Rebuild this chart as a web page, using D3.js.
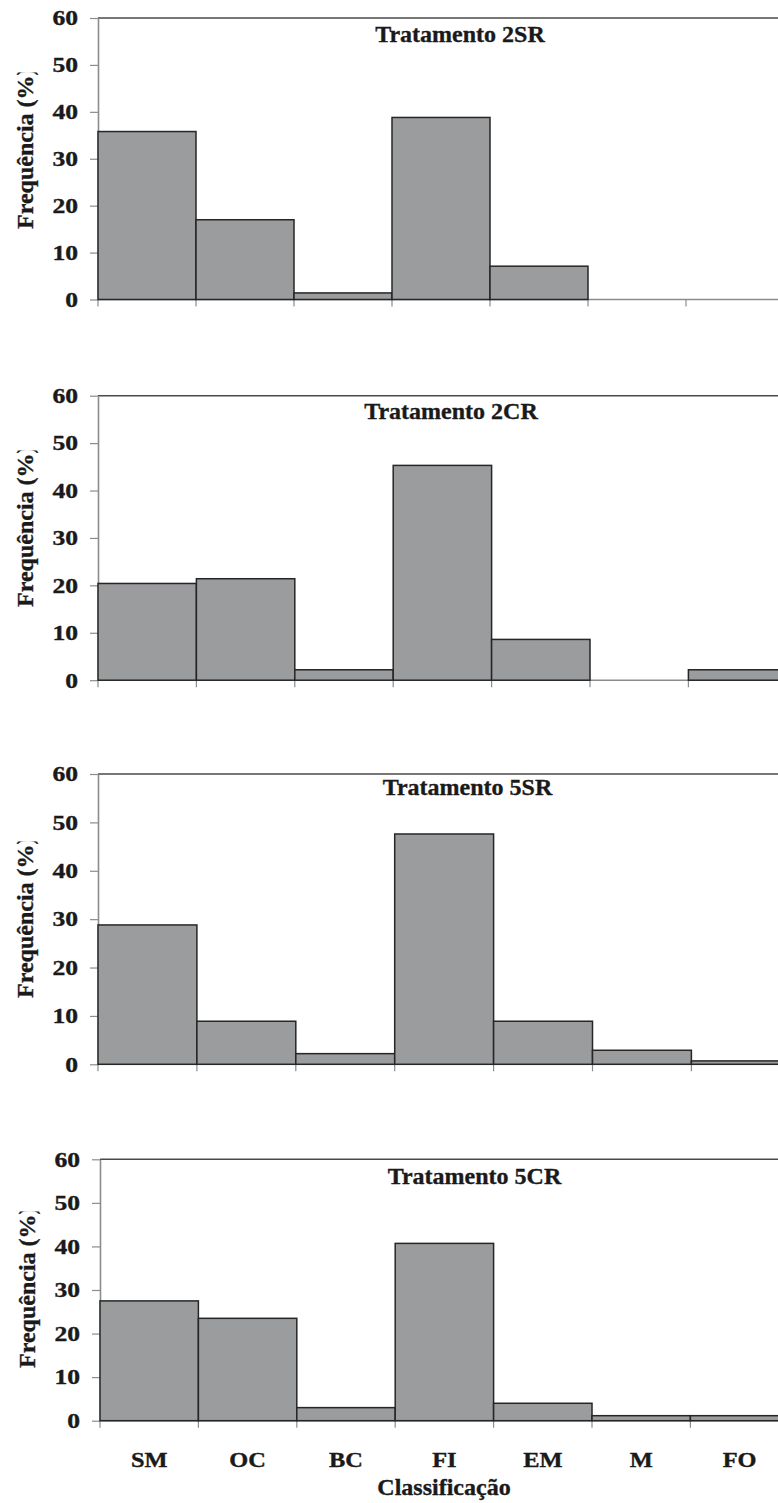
<!DOCTYPE html>
<html>
<head>
<meta charset="utf-8">
<script src="https://cdn.jsdelivr.net/npm/d3@7"></script>
<style>
  html, body { margin: 0; padding: 0; background: #fff; }
  svg { display: block; }
  text { font-family: "Liberation Serif", "Times New Roman", serif; font-weight: bold; fill: #1a1a1a; stroke: #1a1a1a; stroke-width: 0.35px; }
</style>
</head>
<body>
<svg id="chart" width="778" height="1503"></svg>
<script>
// Classification categories shared by all four histograms
const categories = ["SM", "OC", "BC", "FI", "EM", "M", "FO"];

// Panel titles
const treatments = ["Tratamento 2SR", "Tratamento 2CR", "Tratamento 5SR", "Tratamento 5CR"];

// Frequency (%) per category for each treatment
const freq2SR = [35.8, 17.0, 1.4, 38.8, 7.1, 0, 0];
const freq2CR = [20.4, 21.4, 2.2, 45.3, 8.6, 0, 2.2];
const freq5SR = [28.8, 8.9, 2.2, 47.6, 8.9, 2.9, 0.7];
const freq5CR = [27.5, 23.5, 3.0, 40.7, 4.0, 1.15, 1.15];

// Y axis tick values
const yTicks = [0, 10, 20, 30, 40, 50, 60];

const yLabel = "Frequência (%)";
const xLabel = "Classificação";

const series = [freq2SR, freq2CR, freq5SR, freq5CR];

// Placement of each panel on the page
const layout = [
  { left: 98,  top: 18,    zero: 299.5,  band: 98.0, titleX: 460,   titleY: 41.5,  labelY: 229 },
  { left: 98,  top: 395.7, zero: 680.2,  band: 98.4, titleX: 451,   titleY: 419.3, labelY: 607 },
  { left: 98,  top: 774,   zero: 1064.3, band: 98.9, titleX: 467.5, titleY: 795,   labelY: 998 },
  { left: 100, top: 1159.3,zero: 1420.7, band: 98.4, titleX: 474.5, titleY: 1184,  labelY: 1368 }
];

const svg = d3.select("#chart");
const W = 778;

const axisGray = "#8c8c8c";
const borderDark = "#4a4a4a";
const barFill = "#9b9c9e";
const barStroke = "#262626";

const defs = svg.append("defs");

series.forEach((values, i) => {
  const L = layout[i];
  const x = d3.scaleBand()
    .domain(categories)
    .range([L.left, L.left + categories.length * L.band])
    .paddingInner(0).paddingOuter(0);
  const y = d3.scaleLinear().domain([0, 60]).range([L.zero, L.top]);

  const g = svg.append("g").attr("class", "panel");

  // top frame line
  g.append("line")
    .attr("x1", L.left).attr("x2", W)
    .attr("y1", y(60)).attr("y2", y(60))
    .attr("stroke", borderDark).attr("stroke-width", 1.6);

  // y axis
  const yAxis = d3.axisLeft(y).tickValues(yTicks).tickSize(8).tickSizeOuter(0).tickFormat(d3.format("d"));
  const ya = g.append("g").attr("transform", `translate(${L.left},0)`).call(yAxis);
  ya.attr("font-family", null).attr("font-size", null);
  ya.select(".domain").attr("stroke", axisGray).attr("stroke-width", 1.6);
  ya.selectAll(".tick line").attr("stroke", axisGray).attr("stroke-width", 1.2);
  ya.selectAll(".tick text")
    .attr("x", 0).attr("dy", "0.34em")
    .attr("transform", "translate(-20,0) scale(1.28,1)")
    .style("font-size", "20px")
    .attr("fill", "#1a1a1a");

  // x axis baseline and boundary ticks
  g.append("line")
    .attr("x1", L.left).attr("x2", W)
    .attr("y1", y(0)).attr("y2", y(0))
    .attr("stroke", axisGray).attr("stroke-width", 1.6);
  g.selectAll(".xtick")
    .data(categories)
    .join("line")
    .attr("class", "xtick")
    .attr("x1", d => x(d)).attr("x2", d => x(d))
    .attr("y1", y(0)).attr("y2", y(0) + 7)
    .attr("stroke", axisGray).attr("stroke-width", 1.2);

  // bars
  const data = categories.map((c, k) => ({ c, v: values[k] })).filter(d => d.v > 0);
  g.selectAll(".bar")
    .data(data)
    .join("rect")
    .attr("class", "bar")
    .attr("x", d => x(d.c))
    .attr("width", x.bandwidth())
    .attr("y", d => y(d.v))
    .attr("height", d => y(0) - y(d.v))
    .attr("fill", barFill)
    .attr("stroke", barStroke)
    .attr("stroke-width", 1.5);

  // panel title
  g.append("text")
    .attr("x", L.titleX).attr("y", L.titleY)
    .attr("text-anchor", "middle")
    .style("font-size", "24px")
    .text(treatments[i]);

  // rotated y label, trimmed at the top
  const clipId = "ylabclip" + i;
  defs.append("clipPath").attr("id", clipId)
    .append("rect")
    .attr("x", 0).attr("y", L.labelY - 156.5)
    .attr("width", 60).attr("height", 180);
  g.append("g").attr("clip-path", `url(#${clipId})`)
    .append("text")
    .attr("transform", `translate(${L.left - 65},${L.labelY}) rotate(-90)`)
    .attr("text-anchor", "start")
    .style("font-size", "24px")
    .text(yLabel);

  // category labels on the last panel
  if (i === series.length - 1) {
    g.selectAll(".cat")
      .data(categories)
      .join("text")
      .attr("class", "cat")
      .attr("text-anchor", "middle")
      .attr("transform", d => `translate(${x(d) + x.bandwidth() / 2},${y(0) + 46}) scale(1.22,1)`)
      .style("font-size", "20px")
      .text(d => d);

    g.append("text")
      .attr("x", 444).attr("y", y(0) + 74)
      .attr("text-anchor", "middle")
      .style("font-size", "24px")
      .text(xLabel);
  }
});
</script>
</body>
</html>
